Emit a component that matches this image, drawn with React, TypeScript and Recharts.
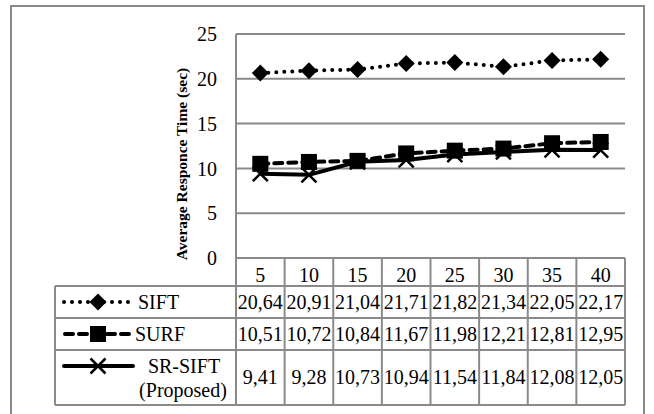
import { LineChart, Line, XAxis, YAxis, CartesianGrid } from "recharts";

const categories = [5, 10, 15, 20, 25, 30, 35, 40];
const siftValues = [20.64, 20.91, 21.04, 21.71, 21.82, 21.34, 22.05, 22.17];
const surfValues = [10.51, 10.72, 10.84, 11.67, 11.98, 12.21, 12.81, 12.95];
const srSiftValues = [9.41, 9.28, 10.73, 10.94, 11.54, 11.84, 12.08, 12.05];
const yTicks = [0, 5, 10, 15, 20, 25];

const data = categories.map((c, i) => ({
  name: c,
  sift: siftValues[i],
  surf: surfValues[i],
  sr: srSiftValues[i],
}));

const W = 654;
const H = 414;
const PLOT_LEFT = 236;
const PLOT_RIGHT = 625;
const PLOT_TOP = 34;
const PLOT_BOTTOM = 258;
const COL_W = (PLOT_RIGHT - PLOT_LEFT) / categories.length;
const TABLE_LEFT = 55;
const ROWS = [
  { top: 258, bottom: 286 },
  { top: 286, bottom: 318 },
  { top: 318, bottom: 350 },
  { top: 350, bottom: 405 },
];
const GRAY = "#8a8a8a";
const FONT = "Liberation Serif, Times New Roman, serif";

const fmt = (v: number) => v.toFixed(2).replace(".", ",");

const Diamond = (props: any) => {
  const { cx, cy } = props;
  if (cx == null || cy == null) return null;
  const r = 8.5;
  return <path d={`M${cx},${cy - r}L${cx + r},${cy}L${cx},${cy + r}L${cx - r},${cy}Z`} fill="#000" />;
};

const Square = (props: any) => {
  const { cx, cy } = props;
  if (cx == null || cy == null) return null;
  return <rect x={cx - 8} y={cy - 8} width={16} height={16} fill="#000" />;
};

const Cross = (props: any) => {
  const { cx, cy } = props;
  if (cx == null || cy == null) return null;
  const r = 7.5;
  return (
    <path
      d={`M${cx - r},${cy - r}L${cx + r},${cy + r}M${cx + r},${cy - r}L${cx - r},${cy + r}`}
      stroke="#000"
      strokeWidth={2.5}
      fill="none"
    />
  );
};

const txt = { fontSize: 20, style: { fontFamily: FONT } };

function TableOverlay() {
  const rowsData = [siftValues, surfValues, srSiftValues];
  const lines: JSX.Element[] = [];
  ROWS.forEach((r, i) => {
    const x1 = i === 0 ? PLOT_LEFT : TABLE_LEFT;
    lines.push(<line key={"h" + i} x1={x1} x2={PLOT_RIGHT} y1={r.top} y2={r.top} stroke={GRAY} strokeWidth={2} />);
  });
  lines.push(
    <line key="hb" x1={TABLE_LEFT} x2={PLOT_RIGHT} y1={ROWS[3].bottom} y2={ROWS[3].bottom} stroke={GRAY} strokeWidth={2} />
  );
  lines.push(<line key="v0" x1={TABLE_LEFT} x2={TABLE_LEFT} y1={ROWS[1].top} y2={ROWS[3].bottom} stroke={GRAY} strokeWidth={2} />);
  for (let k = 0; k <= categories.length; k++) {
    const x = PLOT_LEFT + k * COL_W;
    lines.push(<line key={"v" + (k + 1)} x1={x} x2={x} y1={ROWS[0].top} y2={ROWS[3].bottom} stroke={GRAY} strokeWidth={2} />);
  }

  const cells: JSX.Element[] = [];
  rowsData.forEach((vals, ri) => {
    const r = ROWS[ri + 1];
    const cy = (r.top + r.bottom) / 2;
    vals.forEach((v, ci) => {
      cells.push(
        <text key={`c${ri}-${ci}`} x={PLOT_LEFT + (ci + 0.5) * COL_W} y={cy + 6.8} textAnchor="middle" {...txt}>
          {fmt(v)}
        </text>
      );
    });
  });

  const siftY = (ROWS[1].top + ROWS[1].bottom) / 2;
  const surfY = (ROWS[2].top + ROWS[2].bottom) / 2;
  const srY = 366;

  return (
    <svg width={W} height={H} style={{ position: "absolute", left: 0, top: 0 }}>
      <rect x={11} y={6} width={633} height={430} fill="#fff" stroke={GRAY} strokeWidth={2} />
      {lines}
      {cells}
      {/* legend keys */}
      <line x1={64} x2={134} y1={siftY} y2={siftY} stroke="#000" strokeWidth={4} strokeDasharray="0 8" strokeLinecap="round" />
      <Diamond cx={98} cy={siftY} />
      <text x={138} y={siftY + 6.8} {...txt}>SIFT</text>
      <line x1={65} x2={132} y1={surfY} y2={surfY} stroke="#000" strokeWidth={4} strokeDasharray="8 6" strokeLinecap="round" />
      <Square cx={98} cy={surfY} />
      <text x={135} y={surfY + 6.8} {...txt}>SURF</text>
      <line x1={64} x2={133} y1={srY} y2={srY} stroke="#000" strokeWidth={4} strokeLinecap="round" />
      <Cross cx={98} cy={srY} />
      <text x={184} y={srY + 6.8} textAnchor="middle" {...txt}>SR-SIFT</text>
      <text x={183} y={srY + 30.8} textAnchor="middle" {...txt}>(Proposed)</text>
      <text
        x={181}
        y={164}
        transform="rotate(-90 181 164)"
        textAnchor="middle"
        dominantBaseline="central"
        fontSize={15.5}
        fontWeight="bold"
        style={{ fontFamily: FONT }}
      >
        Average Responce Time (sec)
      </text>
    </svg>
  );
}

export default function App() {
  const yAxisWidth = 60;
  const xAxisHeight = ROWS[0].bottom - ROWS[0].top;
  return (
    <div
      style={{
        position: "absolute",
        left: 0,
        top: 0,
        width: W,
        height: H,
        background: "#fff",
        overflow: "hidden",
        fontFamily: FONT,
      }}
    >
      <TableOverlay />
      <div style={{ position: "absolute", left: 0, top: 0 }}>
        <LineChart
          width={W}
          height={H}
          data={data}
          style={{ fontFamily: FONT }}
          margin={{
            top: PLOT_TOP,
            right: W - PLOT_RIGHT,
            left: PLOT_LEFT - yAxisWidth,
            bottom: H - PLOT_BOTTOM - xAxisHeight,
          }}
        >
          <CartesianGrid vertical={false} stroke={GRAY} strokeWidth={2} />
          <XAxis
            dataKey="name"
            height={xAxisHeight}
            padding={{ left: COL_W / 2, right: COL_W / 2 }}
            tickLine={false}
            tickSize={0}
            tickMargin={10}
            axisLine={{ stroke: GRAY, strokeWidth: 2 }}
            tick={{ fill: "#000", fontSize: 20, style: { fontFamily: FONT } }}
            interval={0}
          />
          <YAxis
            width={yAxisWidth}
            domain={[0, 25]}
            ticks={yTicks}
            tickLine={false}
            tickSize={0}
            tickMargin={19}
            axisLine={{ stroke: GRAY, strokeWidth: 2 }}
            tick={{ fill: "#000", fontSize: 20, style: { fontFamily: FONT } }}
          />
          <Line dataKey="sr" stroke="#000" strokeWidth={4} dot={<Cross />} isAnimationActive={false} />
          <Line
            dataKey="surf"
            stroke="#000"
            strokeWidth={4}
            strokeDasharray="8 6"
            strokeLinecap="round"
            dot={<Square />}
            isAnimationActive={false}
          />
          <Line
            dataKey="sift"
            stroke="#000"
            strokeWidth={4}
            strokeDasharray="0 8"
            strokeLinecap="round"
            dot={<Diamond />}
            isAnimationActive={false}
          />
        </LineChart>
      </div>
    </div>
  );
}
